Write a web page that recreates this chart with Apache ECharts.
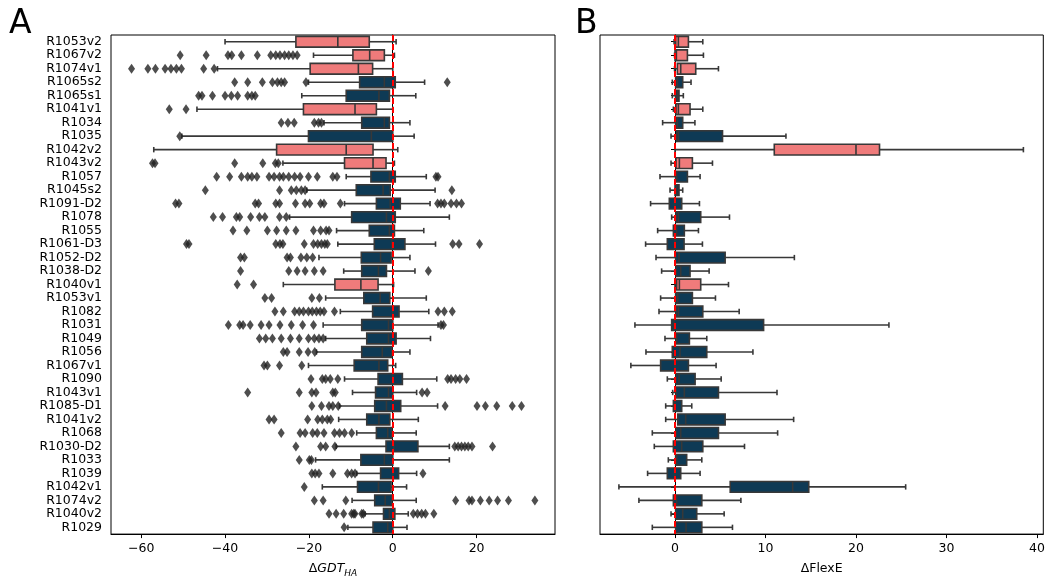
<!DOCTYPE html>
<html><head><meta charset="utf-8">
<script src="https://cdn.jsdelivr.net/npm/echarts@6/dist/echarts.min.js"></script>
<style>html,body{margin:0;padding:0;background:#fff}#c{width:1050px;height:583px}</style>
</head><body><div id="c"></div><script>
const categories = ['R1053v2','R1067v2','R1074v1','R1065s2','R1065s1','R1041v1','R1034','R1035','R1042v2','R1043v2','R1057','R1045s2','R1091-D2','R1078','R1055','R1061-D3','R1052-D2','R1038-D2','R1040v1','R1053v1','R1082','R1031','R1049','R1056','R1067v1','R1090','R1043v1','R1085-D1','R1041v2','R1068','R1030-D2','R1033','R1039','R1042v1','R1074v2','R1040v2','R1029'];
const redTargets = ['R1053v2','R1067v2','R1074v1','R1041v1','R1042v2','R1043v2','R1040v1'];

// Panel A: ΔGDT_HA box statistics
const gdtLow = [-40,-18.9,-41.8,-20.1,-21.7,-46.7,-16.4,-50.3,-57,-26.2,-11.1,-20.5,-11.5,-24.6,-13.4,-13.1,-17.6,-11.7,-26.1,-16.0,-12.5,-16.6,-16.0,-18.2,-20.1,-11.5,-9.6,-12.7,-12.9,-8.6,-13.5,-18.4,-8.6,-16.8,-9.7,-6.6,-10.7];
const gdtQ1 = [-23.1,-9.5,-19.7,-7.9,-11.1,-21.3,-7.4,-20.1,-27.7,-11.5,-5.2,-8.7,-3.9,-9.8,-5.6,-4.4,-7.5,-7.4,-13.8,-6.9,-4.8,-7.4,-6.2,-7.4,-9.2,-3.5,-4.1,-4.3,-6.2,-3.9,-1.6,-7.6,-2.9,-8.4,-4.3,-2.2,-4.7];
const gdtMedian = [-13.1,-5.5,-8.2,-2.0,-3.3,-9.0,-2.0,-5.1,-11.1,-4.7,-0.8,-2.3,-0.6,-1.5,-0.8,-0.2,-2.9,-3.4,-7.6,-3.0,0,-1.0,-1.0,-2.5,-3.3,0,-1.0,-1.5,-3.3,-1.2,0.2,-2.0,0,-3.4,-1.8,-0.8,-1.2];
const gdtQ3 = [-5.6,-2.0,-4.8,0.6,-0.8,-3.9,-0.8,0,-4.7,-1.6,0.6,-0.6,1.8,0.6,0.4,2.9,-0.4,-1.5,-3.5,-0.7,1.5,0,0.8,-0.2,-1.2,2.3,0,1.9,-0.7,-0.2,6.0,0,1.4,-0.4,-0.2,0.5,0];
const gdtHigh = [0.8,0.4,0,7.6,5.5,0,4.1,5.1,1.2,0.4,8.0,10.1,8.9,13.5,7.4,10.2,4.1,5.3,0.2,8.0,8.6,10.8,9.0,4.1,0.7,10.5,5.7,10.7,6.1,5.6,13.5,13.5,5.7,3.3,5.6,3.7,3.4];
const gdtOutliers = [
  [],
  [-50.7,-44.5,-39.3,-38.4,-36.1,-32.3,-29.1,-27.9,-26.9,-25.8,-24.8,-23.8,-22.8],
  [-62.3,-58.4,-56.6,-54.3,-52.9,-51.6,-50.4,-45.1,-42.6],
  [-37.7,-34.6,-31.1,-28.7,-27.5,-26.6,-25.8,-20.7,13.0],
  [-46.3,-45.5,-43.0,-40.0,-38.5,-37.0,-34.6,-33.6,-32.8],
  [-53.3,-49.3],
  [-26.6,-25.0,-23.5,-18.7,-17.7,-17.0],
  [-50.8],
  [],
  [-57.3,-56.7,-37.7,-31.0,-28.0,-27.3],
  [-42.0,-38.9,-36.1,-34.6,-33.6,-32.4,-29.5,-28.3,-27.0,-26.1,-24.8,-23.4,-22.1,-20.1,-18.0,-14.3,-13.3,10.3,10.8],
  [-44.7,-27.0,-24.2,-23.0,-21.8,-20.9,14.1],
  [-51.8,-51.0,-32.8,-32.0,-27.9,-27.0,-23.2,-20.9,-19.8,-17.2,-16.4,-12.5,10.7,11.5,12.3,13.9,15.2,16.4],
  [-42.8,-40.6,-37.3,-36.5,-33.9,-31.8,-30.5,-27.0,-25.4],
  [-38.1,-34.8,-29.9,-27.7,-25.4,-23.1,-18.9,-17.2,-15.9,-15.2],
  [-49.2,-48.6,-27.9,-26.9,-26.2,-21.1,-18.9,-17.9,-17.0,-16.2,-15.6,14.3,15.8,20.7],
  [-36.3,-35.4,-25.2,-24.4,-21.9,-20.5,-19.1],
  [-36.3,-24.8,-22.8,-20.9,-18.7,-16.6,8.5],
  [-37.1,-33.2],
  [-30.5,-28.9,-19.3,-17.5],
  [-28.1,-26.1,-23.4,-22.3,-21.3,-20.1,-19.2,-18.2,-17.3,-16.4,-13.9,10.8,12.3,14.2],
  [-39.2,-36.5,-35.7,-34.0,-31.4,-29.5,-26.9,-24.2,-21.5,-18.9,11.5,12.1],
  [-31.8,-30.3,-28.7,-26.6,-24.4,-22.3,-20.1,-18.7,-17.6,-16.6],
  [-26.1,-25.2,-22.3,-20.2,-18.6],
  [-30.7,-29.9,-27.0,-21.7],
  [-19.5,-16.8,-16.0,-14.9,-13.1,13.1,13.9,15.0,16.0,17.6],
  [-34.6,-22.3,-19.3,-18.3,-14.3,-13.7,7.0,8.2],
  [-19.3,-17.0,-15.2,-14.3,-13.0,12.5,20.1,22.1,24.8,28.5,30.7],
  [-29.5,-28.3,-20.3,-17.9,-16.8,-15.6,-14.8],
  [-26.6,-22.1,-20.9,-19.1,-18.0,-16.4,-13.9,-12.7,-11.5,-9.8],
  [-23.1,-17.2,-16.0,-13.8,14.8,15.6,16.4,17.2,18.0,18.9,23.8],
  [-22.3,-19.9,-19.4],
  [-19.3,-18.5,-17.6,-14.3,-10.8,-9.8,-9.0,7.2],
  [-21.1],
  [-18.7,-16.6,-11.2,15.0,18.2,18.9,20.9,23.0,25.0,27.6,33.9],
  [-15.2,-13.5,-11.7,-9.8,-9.3,-9.0,-7.4,-7.0,4.9,5.9,6.9,7.8,9.8],
  [-11.6]
];

// Panel B: ΔFlexE box statistics
const flexLow = [-0.1,-0.05,-0.05,-0.3,-0.3,-0.18,-1.37,-0.44,0,-0.44,-1.66,-0.55,-2.7,-0.37,-1.92,-3.25,-2.1,-1.48,0,-1.59,-1.77,-4.43,-1.11,-3.21,-4.88,-0.85,-0.26,-1.03,-1.03,-2.51,-2.29,-0.74,-3.03,-6.2,-3.99,-0.44,-2.51];
const flexQ1 = [0.07,0,0.26,0.07,0.07,0.11,0.07,0.18,10.97,0.11,0.07,0,-0.63,0.11,-0.18,-0.85,0.07,0.11,0.18,0.07,0.11,-0.37,0.11,-0.3,-1.59,0.11,0.11,-0.18,0.3,0.11,-0.18,0.07,-0.85,6.1,-0.18,0.07,0.07];
const flexMedian = [0.37,0.15,0.63,0.26,0.26,0.37,0.26,0.37,20.0,0.48,0.18,0.18,0,0.37,0.18,0,0.44,0.63,0.48,0.3,0.37,-0.11,0.18,0.55,0,0.44,1.03,0,1.18,0.63,0.74,0.18,0,13.0,0.18,0.85,1.22];
const flexQ3 = [1.48,1.37,2.29,0.85,0.44,1.66,0.85,5.25,22.6,1.92,1.37,0.44,0.74,2.84,1.03,1.0,5.54,1.66,2.84,1.92,3.07,9.79,1.59,3.51,1.48,2.22,4.8,0.74,5.54,4.8,3.07,1.29,0.63,14.78,2.96,2.4,2.96];
const flexHigh = [3.07,3.14,4.8,1.77,0.92,3.07,2.2,12.26,38.5,4.14,2.77,0.85,2.7,6.02,2.59,3.03,13.19,3.77,5.91,4.47,7.09,23.64,3.51,8.61,4.54,5.1,11.27,1.85,13.11,11.34,7.68,2.96,2.77,25.49,7.28,5.43,6.35];

const gdtTicks = [-60,-40,-20,0,20];
const flexTicks = [0,10,20,30,40];

const RED = '#ef7b7b', NAVY = '#0e3a55', EDGE = '#383838';
const FONT = 'DejaVu Sans';

function boxData(low, q1, med, q3, high) {
  return categories.map((c, i) => [i, low[i], q1[i], med[i], q3[i], high[i], redTargets.includes(c) ? 1 : 0]);
}
function boxRenderer(params, api) {
  const idx = api.value(0);
  const pLow = api.coord([api.value(1), idx]);
  const pQ1 = api.coord([api.value(2), idx]);
  const pMed = api.coord([api.value(3), idx]);
  const pQ3 = api.coord([api.value(4), idx]);
  const pHigh = api.coord([api.value(5), idx]);
  const band = api.size([0, 1])[1];
  const bh = band * 0.8, ch = band * 0.4, y = pMed[1];
  const fill = api.value(6) ? RED : NAVY;
  const ls = {stroke: EDGE, lineWidth: 1.6};
  return {type: 'group', children: [
    {type: 'line', shape: {x1: pLow[0], y1: y, x2: pQ1[0], y2: y}, style: ls},
    {type: 'line', shape: {x1: pQ3[0], y1: y, x2: pHigh[0], y2: y}, style: ls},
    {type: 'line', shape: {x1: pLow[0], y1: y - ch / 2, x2: pLow[0], y2: y + ch / 2}, style: ls},
    {type: 'line', shape: {x1: pHigh[0], y1: y - ch / 2, x2: pHigh[0], y2: y + ch / 2}, style: ls},
    {type: 'rect', shape: {x: pQ1[0], y: y - bh / 2, width: pQ3[0] - pQ1[0], height: bh}, style: {fill: fill, stroke: EDGE, lineWidth: 1.6}},
    {type: 'line', shape: {x1: pMed[0], y1: y - bh / 2, x2: pMed[0], y2: y + bh / 2}, style: ls}
  ]};
}
const zeroLine = {
  silent: true, symbol: ['none', 'none'], label: {show: false}, z: 10,
  lineStyle: {color: '#ff0000', type: [6, 3], width: 2},
  data: [{xAxis: 0}]
};
const minus = v => String(v).replace('-', '\u2212');
function xAxisCfg(gridIndex, min, max, ticks, name) {
  return {
    type: 'value', gridIndex, min, max,
    splitLine: {show: false},
    axisLine: {show: true, onZero: false, lineStyle: {color: '#000', width: 1}},
    axisTick: {show: true, length: 4, customValues: ticks, lineStyle: {color: '#000'}},
    axisLabel: {customValues: ticks, formatter: minus, margin: 8, color: '#000', fontFamily: FONT, fontSize: 12.5},
    name: name, nameLocation: 'middle', nameGap: 25
  };
}
function yAxisCfg(gridIndex, showLabels) {
  return {
    type: 'category', gridIndex, data: categories, inverse: true,
    axisLine: {show: true, lineStyle: {color: '#000', width: 1}},
    axisTick: {show: true, alignWithLabel: true, length: 4, lineStyle: {color: '#000'}},
    axisLabel: {show: showLabels, interval: 0, margin: 9, color: '#000', fontFamily: FONT, fontSize: 12.5},
    splitLine: {show: false}
  };
}

const xA = xAxisCfg(0, -67.2, 38.7, gdtTicks, '{d|Δ}{i|GDT}{s|HA}');
xA.nameTextStyle = {lineHeight: 18, rich: {
  d: {fontFamily: FONT, fontSize: 12.5, color: '#000', lineHeight: 18},
  i: {fontFamily: FONT, fontSize: 12.5, fontStyle: 'italic', color: '#000', lineHeight: 18},
  s: {fontFamily: FONT, fontSize: 9, fontStyle: 'italic', color: '#000', verticalAlign: 'bottom', lineHeight: 9}
}};
const xB = xAxisCfg(1, -8.29, 40.7, flexTicks, 'ΔFlexE');
xB.nameTextStyle = {fontFamily: FONT, fontSize: 12.5, color: '#000', lineHeight: 18};

const chart = echarts.init(document.getElementById('c'), null, {renderer: 'canvas'});
chart.setOption({
  animation: false,
  backgroundColor: '#fff',
  textStyle: {fontFamily: FONT},
  title: [
    {text: 'A', left: 4, top: 3, textStyle: {fontFamily: FONT, fontSize: 33, fontWeight: 'normal', color: '#000'}},
    {text: 'B', left: 570, top: 3, textStyle: {fontFamily: FONT, fontSize: 33, fontWeight: 'normal', color: '#000'}}
  ],
  grid: [
    {left: 111, top: 35, width: 444, height: 504.3, show: true, borderColor: '#000', borderWidth: 1, backgroundColor: 'transparent'},
    {left: 600, top: 35, width: 443.3, height: 504.3, show: true, borderColor: '#000', borderWidth: 1, backgroundColor: 'transparent'}
  ],
  xAxis: [xA, xB],
  yAxis: [yAxisCfg(0, true), yAxisCfg(1, false)],
  series: [
    {type: 'custom', xAxisIndex: 0, yAxisIndex: 0, renderItem: boxRenderer,
     encode: {x: [1, 2, 3, 4, 5], y: 0},
     data: boxData(gdtLow, gdtQ1, gdtMedian, gdtQ3, gdtHigh), markLine: zeroLine, z: 2},
    {type: 'scatter', xAxisIndex: 0, yAxisIndex: 0, symbol: 'diamond', symbolSize: [7, 10],
     itemStyle: {color: '#222'}, z: 3,
     data: gdtOutliers.flatMap((arr, i) => arr.map(v => [v, i]))},
    {type: 'custom', xAxisIndex: 1, yAxisIndex: 1, renderItem: boxRenderer,
     encode: {x: [1, 2, 3, 4, 5], y: 0},
     data: boxData(flexLow, flexQ1, flexMedian, flexQ3, flexHigh), markLine: zeroLine, z: 2}
  ]
});
</script></body></html>
